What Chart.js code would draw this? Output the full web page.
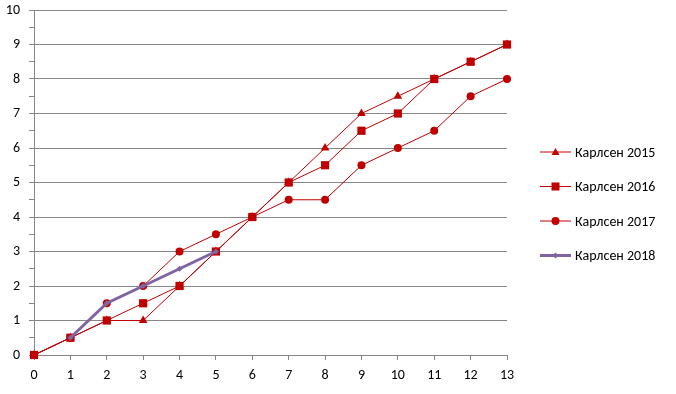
<!DOCTYPE html>
<html>
<head>
<meta charset="utf-8">
<script src="https://cdn.jsdelivr.net/npm/chart.js@4"></script>
<style>
  html, body { margin: 0; padding: 0; background: #fff; }
  #wrap { width: 676px; height: 394px; position: relative; }
</style>
</head>
<body>
<div id="wrap"><canvas id="Chart1"></canvas></div>
<script>
const rounds = [0, 1, 2, 3, 4, 5, 6, 7, 8, 9, 10, 11, 12, 13];
const carlsen2015 = [0, 0.5, 1, 1, 2, 3, 4, 5, 6, 7, 7.5, 8, 8.5, 9];
const carlsen2016 = [0, 0.5, 1, 1.5, 2, 3, 4, 5, 5.5, 6.5, 7, 8, 8.5, 9];
const carlsen2017 = [0, 0.5, 1.5, 2, 3, 3.5, 4, 4.5, 4.5, 5.5, 6, 6.5, 7.5, 8];
const carlsen2018 = [null, 0.5, 1.5, 2, 2.5, 3];
const seriesNames = ['Карлсен 2015', 'Карлсен 2016', 'Карлсен 2017', 'Карлсен 2018'];

const red = '#C00000';
const purple = '#8064A2';
const gridGray = '#868686';
const font = "Carlito, Lato, 'Open Sans', sans-serif";

function toPoints(values) {
    return values.map((v, i) => ({ x: rounds[i], y: v }));
}

// legend drawn by hand: line + marker + text, like the office legend
const sideLegend = {
    id: 'sideLegend',
    afterDraw(chart) {
        const c = chart.ctx;
        const x0 = 540;
        const yStart = 152;
        const gap = 34.5;
        chart.data.datasets.forEach((ds, i) => {
            const y = yStart + i * gap;
            c.save();
            c.strokeStyle = ds.borderColor;
            c.lineWidth = ds.borderWidth;
            c.beginPath();
            c.moveTo(x0, y);
            c.lineTo(x0 + 31, y);
            c.stroke();
            c.fillStyle = ds.pointBackgroundColor;
            const mx = x0 + 15.5;
            const r = ds.pointRadius;
            if (ds.pointStyle === 'triangle') {
                c.beginPath();
                c.moveTo(mx, y - 4);
                c.lineTo(mx + 4, y + 3);
                c.lineTo(mx - 4, y + 3);
                c.closePath();
                c.fill();
            } else if (ds.pointStyle === 'rect') {
                c.fillRect(mx - 4, y - 4, 8, 8);
            } else if (ds.pointStyle === 'circle') {
                c.beginPath();
                c.arc(mx, y, r, 0, Math.PI * 2);
                c.fill();
            } else {
                c.beginPath();
                c.moveTo(mx, y - r);
                c.lineTo(mx + r, y);
                c.lineTo(mx, y + r);
                c.lineTo(mx - r, y);
                c.closePath();
                c.fill();
            }
            c.fillStyle = '#000';
            c.font = '14px ' + font;
            c.textBaseline = 'middle';
            c.fillText(seriesNames[i], x0 + 35, y + 1);
            c.restore();
        });
    }
};

const ctx1 = document.getElementById('Chart1').getContext('2d');

new Chart(ctx1, {
    type: 'line',
    data: {
        datasets: [{
            label: seriesNames[0],
            data: toPoints(carlsen2015),
            borderColor: red,
            borderWidth: 1,
            pointStyle: 'triangle',
            pointRadius: 5,
            pointBackgroundColor: red,
            pointBorderColor: red,
            pointBorderWidth: 0,
            clip: false,
            order: 3
        }, {
            label: seriesNames[1],
            data: toPoints(carlsen2016),
            borderColor: red,
            borderWidth: 1,
            pointStyle: 'rect',
            pointRadius: 5.8,
            pointBackgroundColor: red,
            pointBorderColor: red,
            pointBorderWidth: 0,
            clip: false,
            order: 2
        }, {
            label: seriesNames[2],
            data: toPoints(carlsen2017),
            borderColor: red,
            borderWidth: 1,
            pointStyle: 'circle',
            pointRadius: 4,
            pointBackgroundColor: red,
            pointBorderColor: red,
            pointBorderWidth: 0,
            clip: false,
            order: 1
        }, {
            label: seriesNames[3],
            data: toPoints(carlsen2018),
            borderColor: purple,
            borderWidth: 3,
            pointStyle: 'rectRot',
            pointRadius: 3,
            pointBackgroundColor: purple,
            pointBorderColor: purple,
            pointBorderWidth: 0,
            clip: false,
            order: 0
        }]
    },
    options: {
        responsive: true,
        maintainAspectRatio: false,
        animation: false,
        layout: { padding: { top: 10, right: 169, left: 0, bottom: 0 } },
        plugins: {
            legend: { display: false },
            tooltip: { enabled: false }
        },
        scales: {
            x: {
                type: 'linear',
                min: 0,
                max: 13,
                afterFit(scale) { scale.height = 39; },
                ticks: { stepSize: 1, color: '#000', font: { family: font, size: 14 }, padding: 7 },
                grid: { drawOnChartArea: false, drawTicks: true, tickLength: 5, color: gridGray },
                border: { color: gridGray }
            },
            y: {
                min: 0,
                max: 10,
                afterFit(scale) {
                    scale.width = 34;
                    scale.paddingTop = 0;
                    scale.paddingBottom = 0;
                },
                ticks: {
                    stepSize: 0.5,
                    autoSkip: false,
                    color: '#000',
                    font: { family: font, size: 14 },
                    padding: 9,
                    callback: v => (v % 1 === 0 ? v : '')
                },
                grid: {
                    color: c => (c.tick && c.tick.value % 1 !== 0 ? 'rgba(0,0,0,0)' : gridGray),
                    tickColor: gridGray,
                    tickLength: 5
                },
                border: { color: gridGray }
            }
        }
    },
    plugins: [sideLegend]
});
</script>
</body>
</html>
